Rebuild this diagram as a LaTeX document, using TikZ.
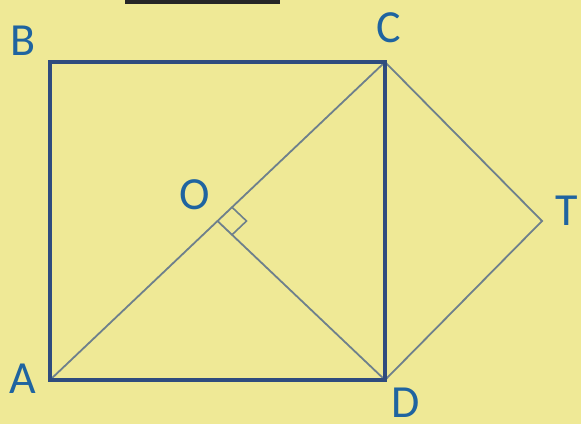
\documentclass[tikz,border=0pt]{standalone}
\usepackage{fontspec}
\setmainfont{Carlito}
\usetikzlibrary{calc}
\definecolor{bg}{HTML}{EFE996}
\definecolor{thick}{HTML}{2F4C7E}
\definecolor{thin}{HTML}{6E808C}
\definecolor{lbl}{HTML}{1F64A0}
\begin{document}
\begin{tikzpicture}[x=1pt,y=-1pt,
  lab/.style={text=lbl,font=\fontsize{46}{46}\selectfont,inner sep=0pt},
  side/.style={draw=thick,line width=4pt,line join=miter},
  fine/.style={draw=thin,line width=1.8pt}]
\fill[bg] (0,0) rectangle (581,424);
\useasboundingbox (0,0) rectangle (581,424);
\fill[black!85] (125,0) rectangle (280,4);
\coordinate (A) at (50,380);
\coordinate (B) at (50,62);
\coordinate (C) at (385,62);
\coordinate (D) at (385,380);
\coordinate (O) at (217.5,221);
\coordinate (T) at (542,221);
\coordinate (P1) at ($(O)!20pt!(C)$);
\coordinate (P2) at ($(O)!20pt!(D)$);
\coordinate (P3) at ($(P1)+(P2)-(O)$);
\draw[fine] (A) -- (C);
\draw[fine] (O) -- (D);
\draw[fine] (C) -- (T) -- (D);
\draw[side] (A) -- (B) -- (C) -- (D) -- cycle;
\draw[draw=thin,line width=1.6pt] (P1) -- (P3) -- (P2);
\node[lab] (lB) at (23,41) {B};
\node[lab] (lC) at (389,28) {C};
\node[lab] (lT) at (567,211) {T};
\node[lab] (lA) at (23,379) {A};
\node[lab] (lD) at (406,403) {D};
\node[lab] (lO) at (195,195) {O};
\end{tikzpicture}
\end{document}
